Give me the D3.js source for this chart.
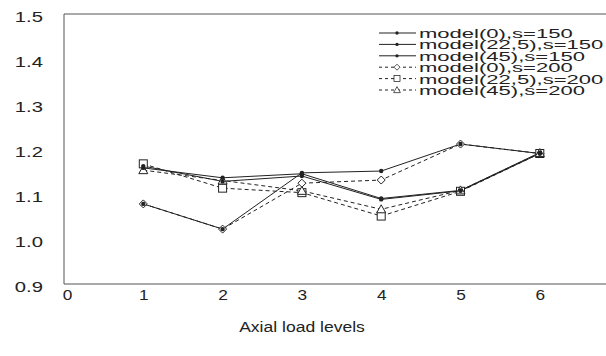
<!DOCTYPE html>
<html><head><meta charset="utf-8">
<script src="https://cdn.jsdelivr.net/npm/d3@7"></script>
<style>body{margin:0;background:#fff}svg{display:block}text{font-family:"Liberation Sans",Arial,sans-serif;fill:#222}</style>
</head><body><svg id="c" width="606" height="356"></svg>
<script>
const levels = [1, 2, 3, 4, 5, 6];
const xTicks = [0, 1, 2, 3, 4, 5, 6];
const yTicks = [0.9, 1.0, 1.1, 1.2, 1.3, 1.4, 1.5];
const seriesNames = ["model(0),s=150", "model(22,5),s=150", "model(45),s=150",
                     "model(0),s=200", "model(22,5),s=200", "model(45),s=200"];
const m0_150   = [1.078, 1.022, 1.147, 1.151, 1.211, 1.190];
const m22_150  = [1.162, 1.128, 1.140, 1.088, 1.107, 1.190];
const m45_150  = [1.158, 1.136, 1.145, 1.090, 1.108, 1.192];
const m0_200   = [1.078, 1.022, 1.124, 1.131, 1.211, 1.190];
const m22_200  = [1.167, 1.113, 1.103, 1.051, 1.106, 1.190];
const m45_200  = [1.153, 1.130, 1.107, 1.066, 1.108, 1.191];
const seriesValues = [m0_150, m22_150, m45_150, m0_200, m22_200, m45_200];
const markers = ["dot", "dot", "dot", "diamond", "square", "triangle"];
const dashed = [false, false, false, true, true, true];

const svg = d3.select("#c");
const x = d3.scaleLinear().domain([0, 7]).range([64, 64 + 7 * 79.3]);
const y = d3.scaleLinear().domain([0.9, 1.5]).range([284, 14]);
const ink = "#222";

// frame
svg.append("path")
  .attr("d", `M${x(7)},${y(1.5)}H${x(0)}V${y(0.9)}H${x(7)}`)
  .attr("fill", "none").attr("stroke", "#555").attr("stroke-width", 1);

// axes
const ax = svg.append("g").attr("transform", `translate(0,${y(0.9)})`)
  .call(d3.axisBottom(x).tickValues(xTicks).tickSize(0).tickPadding(0).tickFormat(d3.format("d")));
ax.select(".domain").remove();
ax.selectAll("text").attr("y", 0).attr("dy", 0).attr("font-size", 15).attr("fill", "#333")
  .attr("transform", d => `translate(${d === 0 ? 3 : 0},16) scale(1.15,1)`)
  .attr("x", 0)
  .style("font-family", "Liberation Sans, Arial, sans-serif");

const ay = svg.append("g").attr("transform", "translate(43,0)")
  .call(d3.axisLeft(y).tickValues(yTicks).tickSize(0).tickPadding(0).tickFormat(d3.format(".1f")));
ay.select(".domain").remove();
ay.selectAll("text").attr("x", 0).attr("dy", 0).attr("font-size", 15).attr("fill", "#333")
  .attr("text-anchor", "end")
  .attr("transform", "translate(0,7) scale(1.35,1)")
  .style("font-family", "Liberation Sans, Arial, sans-serif");

svg.append("text").attr("transform", "translate(302,332) scale(1.17,1)")
  .attr("text-anchor", "middle").attr("font-size", 15).attr("fill", "#333").text("Axial load levels");

function drawMarker(g, type) {
  if (type === "dot") g.append("circle").attr("r", 2.2).attr("fill", ink);
  else if (type === "diamond") g.append("path").attr("d", "M0,-4L4,0L0,4L-4,0Z").attr("fill", "#fff").attr("stroke", ink).attr("stroke-width", 1);
  else if (type === "square") g.append("rect").attr("x", -4).attr("y", -4).attr("width", 8).attr("height", 8).attr("fill", "#fff").attr("stroke", ink).attr("stroke-width", 1);
  else g.append("path").attr("d", "M0,-4.5L4.5,3.5L-4.5,3.5Z").attr("fill", "#fff").attr("stroke", ink).attr("stroke-width", 1);
}

const line = d3.line().x((d, i) => x(levels[i])).y(d => y(d));
const order = [3, 4, 5, 0, 1, 2];
order.forEach(k => {
  svg.append("path").datum(seriesValues[k]).attr("d", line)
    .attr("fill", "none").attr("stroke", ink).attr("stroke-width", 1)
    .attr("stroke-dasharray", dashed[k] ? "4,3" : null);
});
order.forEach(k => {
  seriesValues[k].forEach((v, i) => {
    const g = svg.append("g").attr("transform", `translate(${x(levels[i])},${y(v)})`);
    drawMarker(g, markers[k]);
  });
});

// legend
seriesNames.forEach((name, k) => {
  const ly = 33 + k * 11.4;
  svg.append("line").attr("x1", 379).attr("x2", 416).attr("y1", ly).attr("y2", ly)
    .attr("stroke", ink).attr("stroke-width", 1).attr("stroke-dasharray", dashed[k] ? "3,3" : null);
  const g = svg.append("g").attr("transform", `translate(397,${ly}) scale(0.75)`);
  drawMarker(g, markers[k]);
  svg.append("text").attr("transform", `translate(419,${ly + 5}) scale(1.47,0.88)`)
    .attr("font-size", 15).attr("fill", "#333").text(name);
});
</script></body></html>
